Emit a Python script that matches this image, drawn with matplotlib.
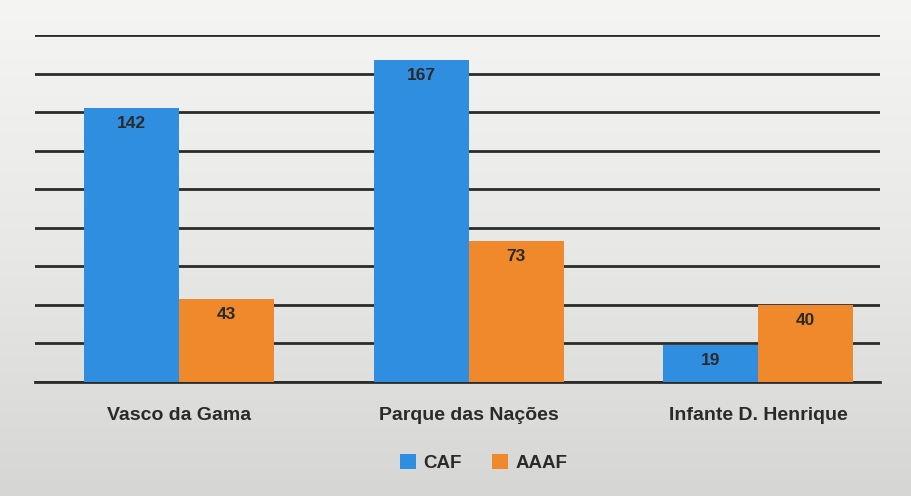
import matplotlib.pyplot as plt
import numpy as np

categories = ['Vasco da Gama', 'Parque das Nações', 'Infante D. Henrique']
caf = [142, 167, 19]
aaaf = [43, 73, 40]
series_names = ['CAF', 'AAAF']

blue = '#2f8ee0'
orange = '#f0892c'
text_col = '#2a2a2a'

plt.rcParams['font.family'] = ['Liberation Sans', 'DejaVu Sans']

fig = plt.figure(figsize=(9.12, 4.96), dpi=100)

# scanned-paper look: light gray gradient behind everything
bg = fig.add_axes([0, 0, 1, 1], zorder=-10)
grad = np.linspace(0, 1, 256).reshape(-1, 1)
paper = plt.matplotlib.colors.LinearSegmentedColormap.from_list(
    'paper', ['#f5f5f3', '#e8e8e6', '#d6d6d4'])
bg.imshow(grad, aspect='auto', cmap=paper, extent=[0, 1, 0, 1], origin='upper')
bg.axis('off')

ax = fig.add_axes([0.038, 0.2298, 0.9265, 0.6996])
ax.patch.set_alpha(0)

x = np.arange(len(categories))
w = 0.328
b1 = ax.bar(x - w / 2, caf, w, color=blue, label=series_names[0], zorder=3)
b2 = ax.bar(x + w / 2, aaaf, w, color=orange, label=series_names[1], zorder=3)

for bars in (b1, b2):
    for rect in bars:
        h = rect.get_height()
        ax.annotate(str(int(h)), (rect.get_x() + rect.get_width() / 2, h),
                    xytext=(0, -11), textcoords='offset points', ha='center', va='center',
                    fontsize=12.5, fontweight='bold', color=text_col, zorder=4)

ax.set_ylim(0, 180)
ax.set_xlim(-0.5, 2.42)
ax.set_yticks(np.arange(0, 181, 20))
ax.yaxis.grid(True, color='#2b2b2b', linewidth=2, zorder=1)
ax.axhline(0, color='#2b2b2b', linewidth=2, zorder=1, clip_on=False)
ax.set_yticklabels([])
ax.tick_params(axis='y', length=0)
ax.tick_params(axis='x', length=0, pad=18)
ax.set_xticks(x)
ax.set_xticklabels(categories, fontsize=14, fontweight='bold', color=text_col)
for s in ax.spines.values():
    s.set_visible(False)

leg = fig.legend(loc='center', bbox_to_anchor=(0.53, 0.066), ncol=2, frameon=False,
                 fontsize=13.5, handlelength=0.85, handleheight=0.85, columnspacing=1.6,
                 handletextpad=0.4)
for t in leg.get_texts():
    t.set_fontweight('bold')
    t.set_color(text_col)

fig.savefig('out.png', dpi=100)
